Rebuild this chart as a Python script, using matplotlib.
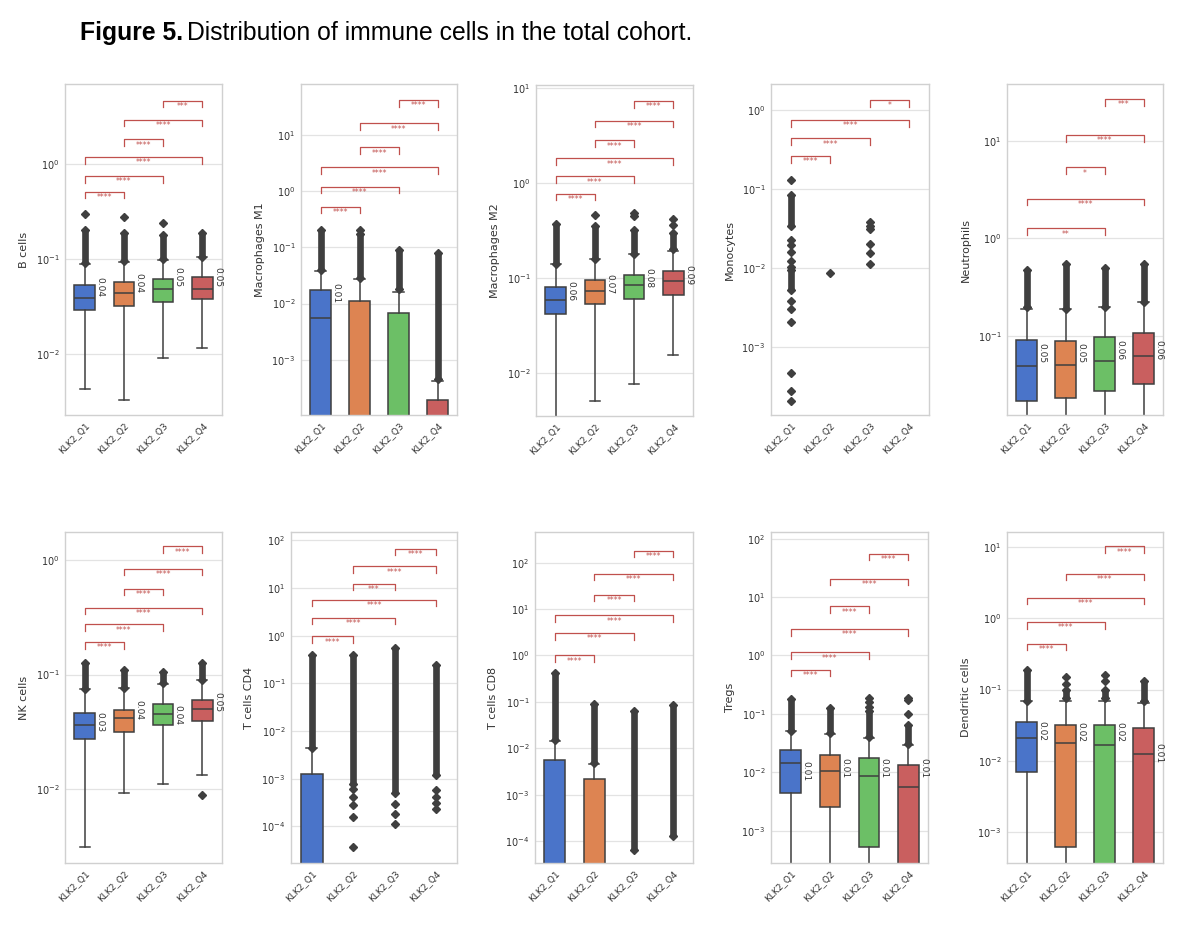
import matplotlib
matplotlib.use("Agg")
import numpy as np
import matplotlib.pyplot as plt
import matplotlib.transforms as mtransforms
from matplotlib.ticker import LogFormatterSciNotation, NullLocator

groups = ["KLK2_Q1", "KLK2_Q2", "KLK2_Q3", "KLK2_Q4"]
palette = ["#4a74c9", "#dd8452", "#6cbf66", "#c95f5f"]
ALL6 = [(0, 1), (0, 2), (0, 3), (1, 2), (1, 3), (2, 3)]

# box stats per group: (q1, median, q3, whisker low, whisker high); None = collapsed at 0
# ---- B cells
bcells_box = [(0.029, 0.039, 0.053, 0.0043, 0.088), (0.032, 0.0435, 0.0568, 0.0033, 0.093),
              (0.035, 0.0483, 0.061, 0.0091, 0.098), (0.0376, 0.0488, 0.065, 0.0115, 0.104)]
bcells_band = [[(0.09, 0.2)], [(0.095, 0.19)], [(0.1, 0.18)], [(0.106, 0.19)]]
bcells_out = [[0.30], [0.28], [0.24], []]
bcells_lab = ["0.04", "0.04", "0.05", "0.05"]
bcells_mean = [0.051, 0.0555, 0.065, 0.064]
bcells_sig = ["****", "****", "****", "****", "****", "***"]
bcells_lim = (0.00228, 6.95)

# ---- Macrophages M1
m1_box = [(0, 0.0055, 0.0175, 0, 0.038), (0, 0, 0.0112, 0, 0.027),
          (0, 0, 0.0067, 0, 0.016), (0, 0, 0.00019, 0, 0.00042)]
m1_band = [[(0.04, 0.2)], [(0.029, 0.17)], [(0.018, 0.09)], [(0.00045, 0.08)]]
m1_out = [[], [0.2], [], []]
m1_lab = ["0.01", None, None, None]
m1_mean = [0.0157, None, None, None]
m1_sig = ["****"] * 6
m1_lim = (1.04e-4, 81)

# ---- Macrophages M2
m2_box = [(0.0415, 0.0585, 0.0796, 0, 0.14), (0.053, 0.0722, 0.096, 0.005, 0.16),
          (0.0598, 0.0843, 0.108, 0.0076, 0.18), (0.0665, 0.092, 0.117, 0.0154, 0.19)]
m2_band = [[(0.14, 0.37)], [(0.16, 0.35)], [(0.18, 0.32)], [(0.2, 0.3)]]
m2_out = [[], [0.46], [0.45, 0.48], [0.36, 0.42]]
m2_lab = ["0.06", "0.07", "0.08", "0.09"]
m2_mean = [0.073, 0.086, 0.1, 0.106]
m2_sig = ["****"] * 6
m2_lim = (3.5e-3, 10.8)

# ---- Monocytes (all medians at 0, only outliers visible)
mono_box = [None, None, None, None]
mono_band = [[(0.034, 0.084), (0.0053, 0.0094)], [], [], []]
mono_out = [[0.13, 0.0226, 0.0195, 0.0161, 0.0123, 0.0105, 0.0039, 0.0031, 0.0021,
             4.8e-4, 2.8e-4, 2.1e-4],
            [0.0086],
            [0.0386, 0.034, 0.031, 0.0205, 0.0157, 0.0112],
            []]
mono_lab = [None] * 4
mono_mean = [None] * 4
mono_pairs = [(0, 1), (0, 2), (0, 3), (2, 3)]
mono_sig = ["****", "****", "****", "*"]
mono_lim = (1.4e-4, 2.13)

# ---- Neutrophils
neut_box = [(0.0216, 0.0493, 0.091, 0, 0.19), (0.0234, 0.0505, 0.0896, 0, 0.19),
            (0.0274, 0.0554, 0.097, 0, 0.2), (0.0323, 0.0624, 0.106, 0, 0.22)]
neut_band = [[(0.2, 0.47)], [(0.19, 0.55)], [(0.2, 0.5)], [(0.22, 0.55)]]
neut_out = [[], [], [], []]
neut_lab = ["0.05", "0.05", "0.06", "0.06"]
neut_mean = [0.0665, 0.0665, 0.072, 0.072]
neut_pairs = [(0, 2), (0, 3), (1, 2), (1, 3), (2, 3)]
neut_sig = ["**", "****", "*", "****", "***"]
neut_lim = (0.0155, 38)

# ---- NK cells
nk_box = [(0.0272, 0.036, 0.0462, 0.0031, 0.074), (0.0316, 0.0418, 0.0494, 0.0091, 0.076),
          (0.036, 0.045, 0.0547, 0.011, 0.083), (0.0391, 0.0498, 0.0597, 0.0133, 0.09)]
nk_band = [[(0.075, 0.125)], [(0.076, 0.11)], [(0.084, 0.105)], [(0.09, 0.125)]]
nk_out = [[], [], [], [0.0088]]
nk_lab = ["0.03", "0.04", "0.04", "0.05"]
nk_mean = [0.0385, 0.0487, 0.044, 0.0577]
nk_sig = ["****"] * 6
nk_lim = (0.00224, 1.77)

# ---- T cells CD4
cd4_box = [(0, 0, 0.00126, 0, 0.0043), None, None, None]
cd4_band = [[(0.0045, 0.39)], [(7.9e-4, 0.39)], [(4.9e-4, 0.55)], [(1.17e-3, 0.24)]]
cd4_out = [[], [6.2e-4, 4.1e-4, 2.8e-4, 1.6e-4, 3.6e-5], [3.0e-4, 1.8e-4, 1.14e-4],
           [5.7e-4, 4.1e-4, 3.1e-4, 2.3e-4]]
cd4_lab = [None] * 4
cd4_mean = [None] * 4
cd4_sig = ["****", "****", "****", "***", "****", "****"]
cd4_lim = (1.7e-5, 150)

# ---- T cells CD8
cd8_box = [(0, 0, 0.0057, 0, 0.0144), (0, 0, 0.0022, 0, 0.0045), None, None]
cd8_band = [[(0.015, 0.42)], [(0.0048, 0.092)], [(6.3e-5, 0.065)], [(1.26e-4, 0.087)]]
cd8_out = [[], [], [], []]
cd8_lab = [None] * 4
cd8_mean = [None] * 4
cd8_sig = ["****"] * 6
cd8_lim = (3.35e-5, 460)

# ---- Tregs
treg_box = [(0.0045, 0.0143, 0.0241, 0, 0.05), (0.0025, 0.0105, 0.0198, 0, 0.046),
            (0.00053, 0.0087, 0.0174, 0, 0.038), (0, 0.0057, 0.0134, 0, 0.029)]
treg_band = [[(0.05, 0.18)], [(0.047, 0.125)], [(0.04, 0.11)], [(0.03, 0.065)]]
treg_out = [[], [], [0.13, 0.16, 0.19], [0.1, 0.17, 0.19]]
treg_lab = ["0.01", "0.01", "0.01", "0.01"]
treg_mean = [0.0107, 0.0117, 0.0117, 0.0117]
treg_sig = ["****"] * 6
treg_lim = (2.8e-4, 130)

# ---- Dendritic cells
dc_box = [(0.0069, 0.0208, 0.0347, 0, 0.07), (0.00062, 0.0178, 0.0318, 0, 0.07),
          (0, 0.0168, 0.0318, 0, 0.07), (0, 0.0125, 0.0289, 0, 0.065)]
dc_band = [[(0.07, 0.19)], [(0.075, 0.1)], [(0.075, 0.1)], [(0.07, 0.13)]]
dc_out = [[], [0.12, 0.15], [0.13, 0.16], []]
dc_lab = ["0.02", "0.02", "0.02", "0.01"]
dc_mean = [0.0259, 0.0255, 0.0255, 0.0129]
dc_pairs = [(0, 1), (0, 2), (0, 3), (1, 3), (2, 3)]
dc_sig = ["****"] * 5
dc_lim = (3.66e-4, 16.3)

# layout: axes in pixels (left, top, width) and bracket heights in axes fraction
W, H = 1200, 925
AX_H = 331
panels = [
    ("B cells", bcells_box, bcells_band, bcells_out, bcells_lab, bcells_mean, ALL6, bcells_sig, bcells_lim,
     (65, 84, 157), [0.675, 0.722, 0.779, 0.833, 0.892, 0.950]),
    ("Macrophages M1", m1_box, m1_band, m1_out, m1_lab, m1_mean, ALL6, m1_sig, m1_lim,
     (301, 84, 156), [0.629, 0.690, 0.748, 0.809, 0.881, 0.952]),
    ("Macrophages M2", m2_box, m2_band, m2_out, m2_lab, m2_mean, ALL6, m2_sig, m2_lim,
     (536, 85, 157), [0.672, 0.724, 0.778, 0.833, 0.892, 0.952]),
    ("Monocytes", mono_box, mono_band, mono_out, mono_lab, mono_mean, mono_pairs, mono_sig, mono_lim,
     (771, 84, 158), [0.782, 0.836, 0.891, 0.952]),
    ("Neutrophils", neut_box, neut_band, neut_out, neut_lab, neut_mean, neut_pairs, neut_sig, neut_lim,
     (1007, 84, 156), [0.564, 0.653, 0.748, 0.846, 0.955]),
    ("NK cells", nk_box, nk_band, nk_out, nk_lab, nk_mean, ALL6, nk_sig, nk_lim,
     (65, 532, 157), [0.668, 0.721, 0.771, 0.829, 0.889, 0.957]),
    ("T cells CD4", cd4_box, cd4_band, cd4_out, cd4_lab, cd4_mean, ALL6, cd4_sig, cd4_lim,
     (291, 532, 166), [0.685, 0.741, 0.795, 0.844, 0.896, 0.950]),
    ("T cells CD8", cd8_box, cd8_band, cd8_out, cd8_lab, cd8_mean, ALL6, cd8_sig, cd8_lim,
     (535, 532, 158), [0.627, 0.695, 0.748, 0.811, 0.874, 0.943]),
    ("Tregs", treg_box, treg_band, treg_out, treg_lab, treg_mean, ALL6, treg_sig, treg_lim,
     (771, 532, 157), [0.584, 0.636, 0.707, 0.775, 0.859, 0.935]),
    ("Dendritic cells", dc_box, dc_band, dc_out, dc_lab, dc_mean, dc_pairs, dc_sig, dc_lim,
     (1007, 532, 156), [0.663, 0.728, 0.801, 0.874, 0.957]),
]

EDGE = "#3f3f3f"
SIGC = "#c0504d"
TXT = "#333333"

plt.rcParams["font.family"] = ["DejaVu Sans"]
fig = plt.figure(figsize=(W / 100, H / 100), dpi=100)

for (name, box, band, out, lab, mean, pairs, sig, lim, pos, brk) in panels:
    left, top, width = pos
    ax = fig.add_axes([left / W, 1 - (top + AX_H) / H, width / W, AX_H / H])
    ax.set_yscale("log", nonpositive="clip")
    ax.set_ylim(*lim)
    ax.set_xlim(-0.5, 3.5)

    # boxes
    for i, st in enumerate(box):
        if st is None:
            continue
        q1, med, q3, wlo, whi = st
        ax.bxp([{"q1": q1, "med": med, "q3": q3, "whislo": wlo, "whishi": whi, "fliers": []}],
               positions=[i], widths=0.52, patch_artist=True, showfliers=False,
               boxprops=dict(facecolor=palette[i], edgecolor=EDGE, linewidth=1.1),
               medianprops=dict(color=EDGE, linewidth=1.1),
               whiskerprops=dict(color=EDGE, linewidth=1.1),
               capprops=dict(color=EDGE, linewidth=1.1), manage_ticks=False)

    # outliers: dense runs drawn as a thick column plus diamonds
    for i in range(4):
        pts = list(out[i])
        for lo, hi in band[i]:
            ax.vlines(i, lo, hi, color=EDGE, lw=4.8, zorder=3)
            pts += [lo, hi]
        if pts:
            ax.plot([i] * len(pts), pts, "D", ms=4.0, color=EDGE, mec=EDGE, zorder=3)

    # median labels
    for i in range(4):
        if lab[i] is not None:
            ax.text(i + 0.27, mean[i], lab[i], rotation=270, fontsize=6.5, color=TXT,
                    ha="left", va="center", zorder=4)

    # significance brackets
    trans = mtransforms.blended_transform_factory(ax.transData, ax.transAxes)
    for (a, b), s, y in zip(pairs, sig, brk):
        ax.plot([a, a, b, b], [y - 0.02, y, y, y - 0.02], color=SIGC, lw=0.9,
                transform=trans, clip_on=False, zorder=5)
        ax.text((a + b) / 2, y - 0.004, s, ha="center", va="top", fontsize=5.5,
                color=SIGC, transform=trans, zorder=5)

    # styling (seaborn whitegrid look); only decades inside the view get a tick
    decades = 10.0 ** np.arange(-8, 5)
    ax.set_yticks([d for d in decades if lim[0] <= d <= lim[1]])
    ax.yaxis.set_major_formatter(LogFormatterSciNotation())
    ax.yaxis.set_minor_locator(NullLocator())
    ax.grid(axis="y", color="#e3e3e3", lw=0.9)
    ax.set_axisbelow(True)
    for sp in ax.spines.values():
        sp.set_color("#d0d0d0")
        sp.set_linewidth(1.0)
    ax.tick_params(length=0, labelsize=7, labelcolor=TXT, pad=4)
    ax.set_xticks(range(4))
    ax.set_xticklabels(groups, rotation=45, ha="right", rotation_mode="anchor", fontsize=6.5)
    ax.set_ylabel(name, fontsize=8, color=TXT, labelpad=5)

# title
t1 = fig.text(80 / W, 1 - 33 / H, "Figure 5.", fontsize=17.8, weight="bold",
              family="Liberation Sans", va="center", ha="left")
fig.canvas.draw()
bb = t1.get_window_extent(fig.canvas.get_renderer())
fig.text(bb.x1 / W + 4 / W, 1 - 33 / H, "Distribution of immune cells in the total cohort.",
         fontsize=17.8, family="Liberation Sans", va="center", ha="left")

fig.savefig("out.png", dpi=100)
